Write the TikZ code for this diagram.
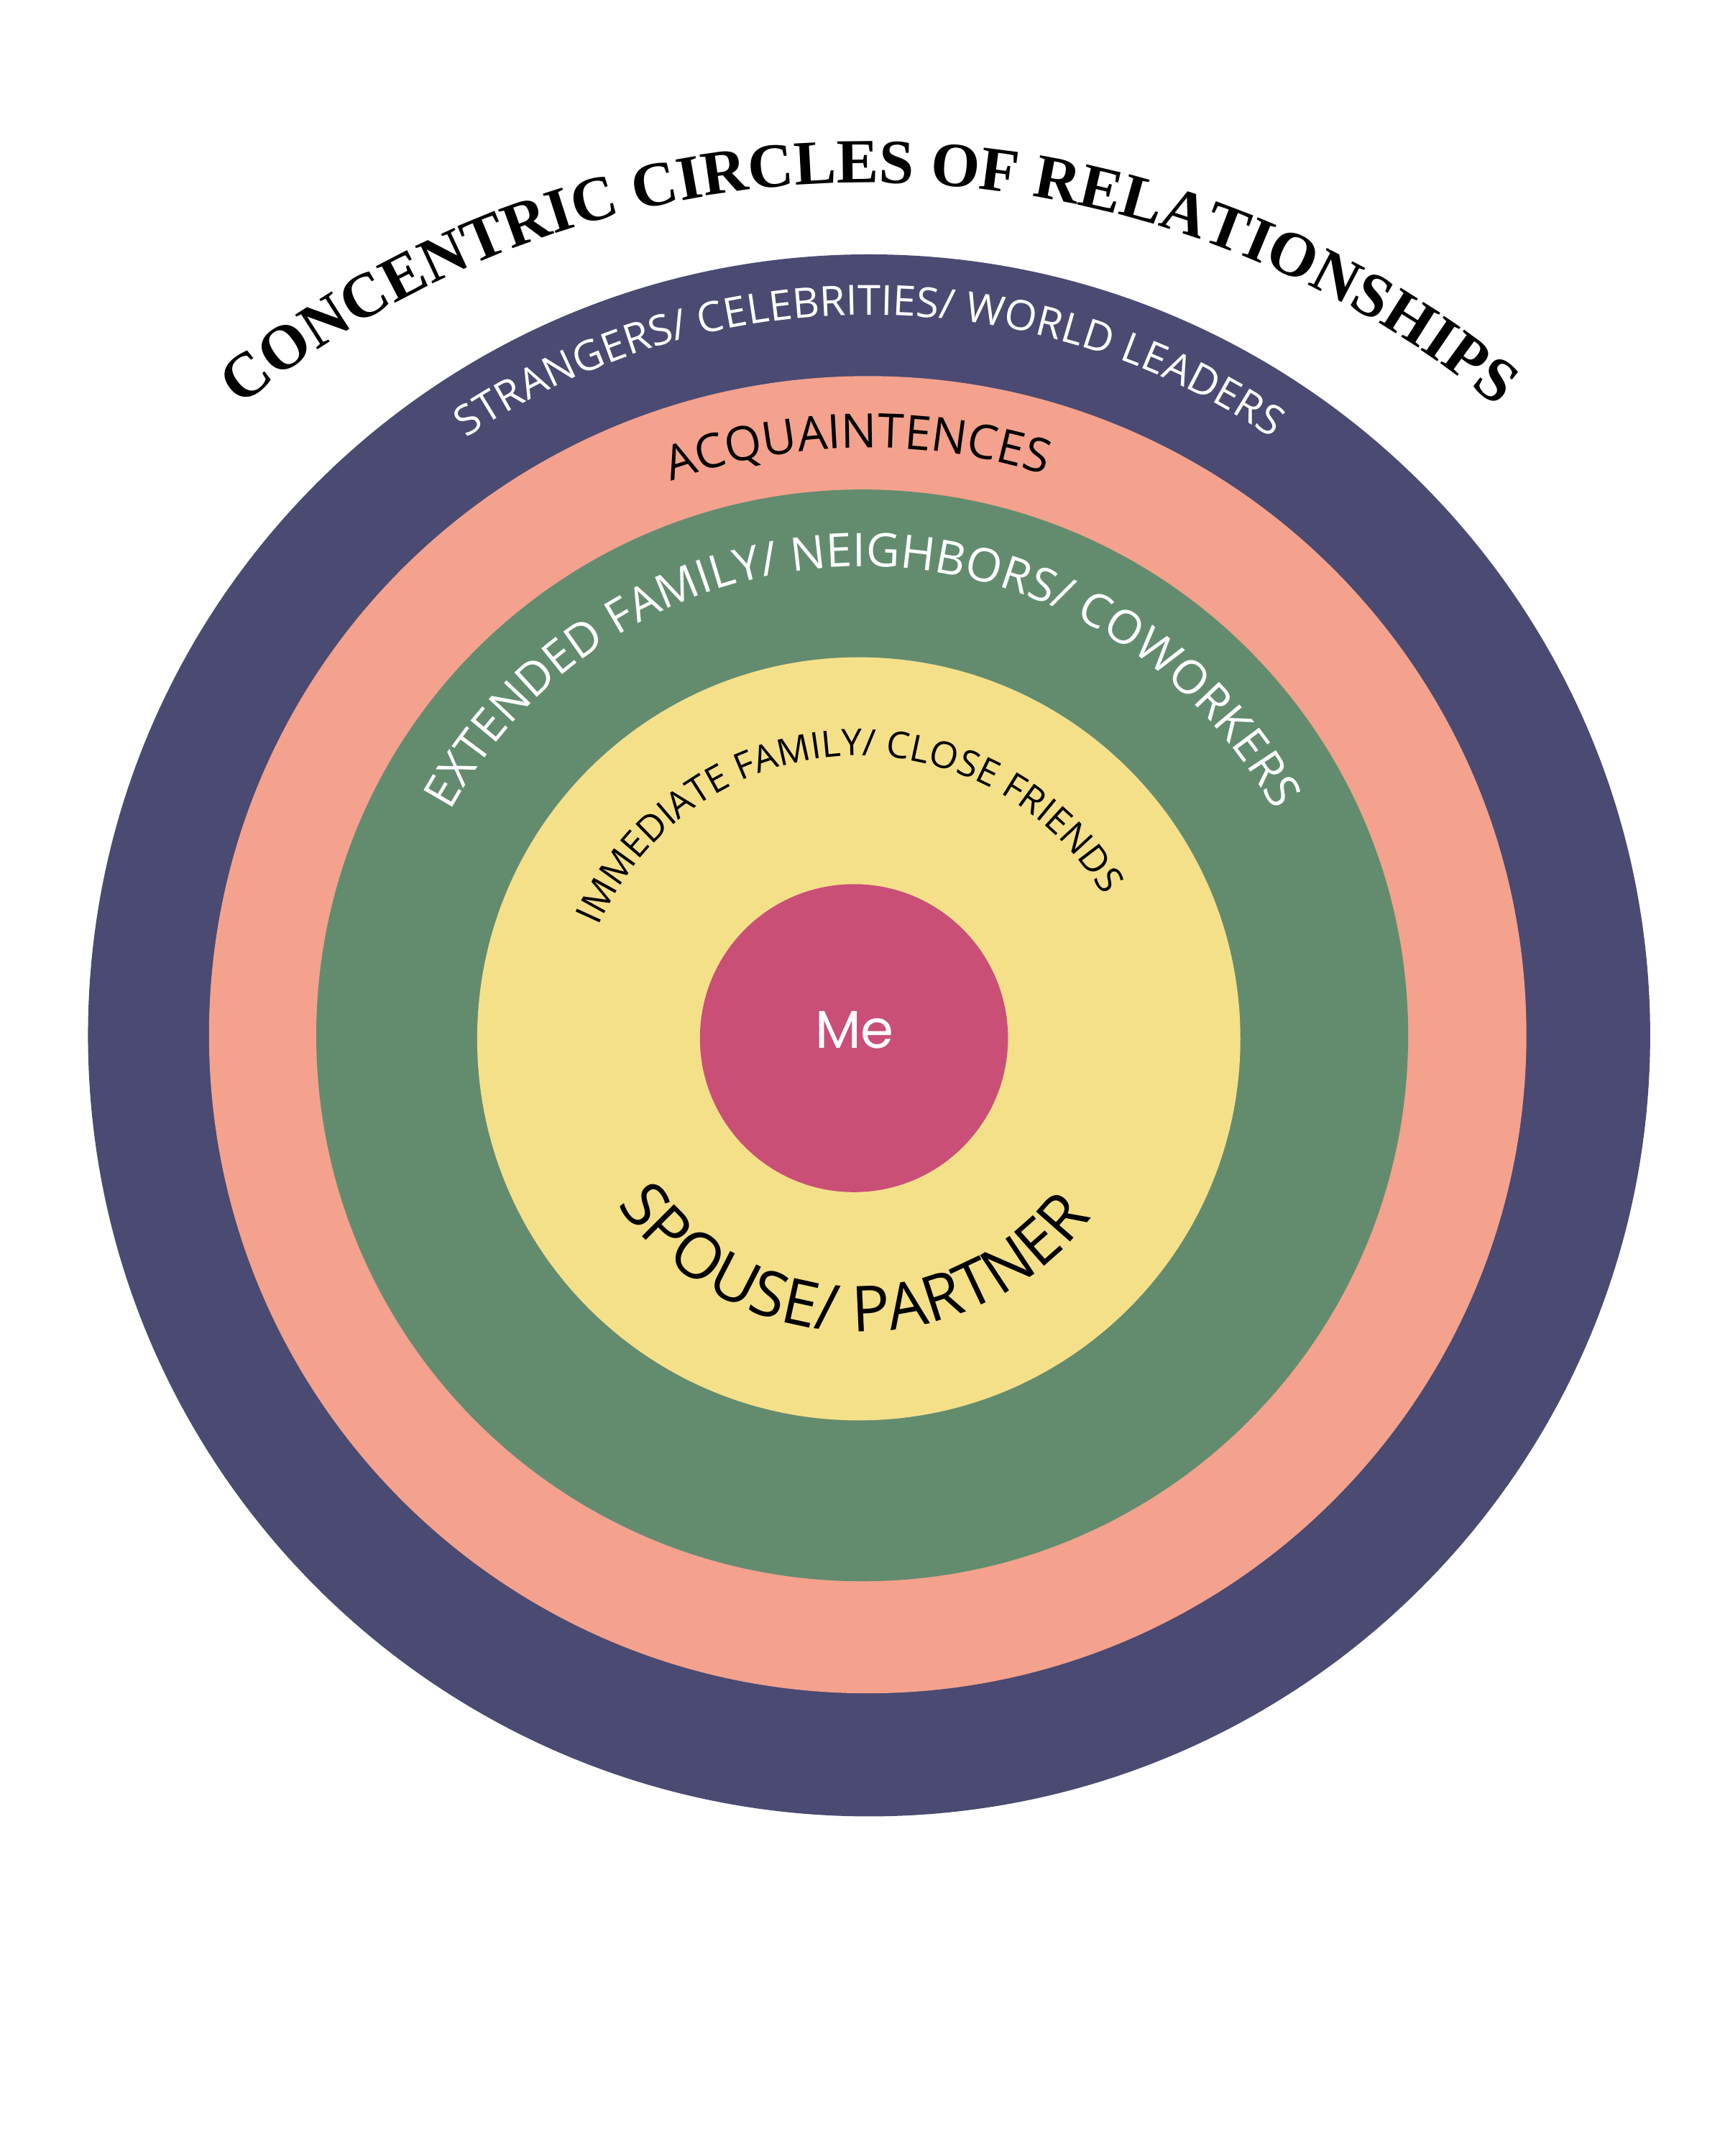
\documentclass[tikz,border=0pt]{standalone}
\usepackage{fontspec}
\setsansfont{Open Sans}
\newfontfamily\titleserif{Liberation Serif}
\newfontfamily\mesans{Poppins}
\usepackage{xcolor}
\usetikzlibrary{decorations.text}

\definecolor{ringnavy}{RGB}{74,74,114}
\definecolor{ringsalmon}{RGB}{244,162,141}
\definecolor{ringgreen}{RGB}{99,140,111}
\definecolor{ringyellow}{RGB}{245,224,138}
\definecolor{corepink}{RGB}{201,79,118}

\newcommand\titlesize{\fontsize{13}{16}\selectfont\titleserif\bfseries}
\newcommand\strangersize{\fontsize{8.6}{10}\selectfont\sffamily}
\newcommand\acqsize{\fontsize{9.8}{12}\selectfont\sffamily}
\newcommand\extsize{\fontsize{9.6}{11}\selectfont\sffamily}
\newcommand\immsize{\fontsize{7.6}{9}\selectfont\sffamily}
\newcommand\spousesize{\fontsize{13.1}{16}\selectfont\sffamily}

\begin{document}
\begin{tikzpicture}[x=0.01cm, y=0.01cm,
    ringtext/.style={decorate, decoration={text along path, text align=center, text color=#1}}]

    \useasboundingbox (-632,-815) rectangle (622,753);

    % --- Centres of the rings ---
    \coordinate (outer) at (0,0);
    \coordinate (acq) at (-1,0.5);
    \coordinate (ext) at (-5,0);
    \coordinate (imm) at (-7.5,-2.5);
    \coordinate (core) at (-11,-2);
    \coordinate (titlec) at (0,-102);

    % --- Rings, outside in ---
    \fill[ringnavy] (outer) circle[radius=568];
    \fill[ringsalmon] (acq) circle[radius=479];
    \fill[ringgreen] (ext) circle[radius=397];
    \fill[ringyellow] (imm) circle[radius=277.5];
    \fill[corepink] (core) circle[radius=112];

    % --- Title on its own, wider arc ---
    \path[ringtext=black, decoration={text={|\titlesize|CONCENTRIC CIRCLES OF RELATIONSHIPS}}]
        (titlec) ++(180:722) arc[start angle=180, end angle=0, radius=722];

    % --- Ring labels, read clockwise over the top ---
    \path[ringtext=white, decoration={text={|\strangersize|STRANGERS/ CELEBRITIES/ WORLD LEADERS}}]
        (outer) ++(180:524) arc[start angle=180, end angle=0, radius=524];
    \path[ringtext=black, decoration={text={|\acqsize|ACQUAINTENCES}}]
        (acq) ++(181:427) arc[start angle=181, end angle=1, radius=427];
    \path[ringtext=white, decoration={text={|\extsize|EXTENDED FAMILY/ NEIGHBORS/ COWORKERS}}]
        (ext) ++(180:341) arc[start angle=180, end angle=0, radius=341];
    \path[ringtext=black, decoration={text={|\immsize|IMMEDIATE FAMILY/ CLOSE FRIENDS}}]
        (imm) ++(183.5:206) arc[start angle=183.5, end angle=3.5, radius=206];

    % --- Bottom label, read anticlockwise under the core ---
    \path[ringtext=black, decoration={text={|\spousesize|SPOUSE/ PARTNER}}]
        (imm) ++(178.5:213) arc[start angle=178.5, end angle=358.5, radius=213];

    % --- Core ---
    \node[inner sep=0pt, text=white, font=\fontsize{11}{13}\selectfont\mesans] (me) at (-10.5,4) {Me};

\end{tikzpicture}
\end{document}
